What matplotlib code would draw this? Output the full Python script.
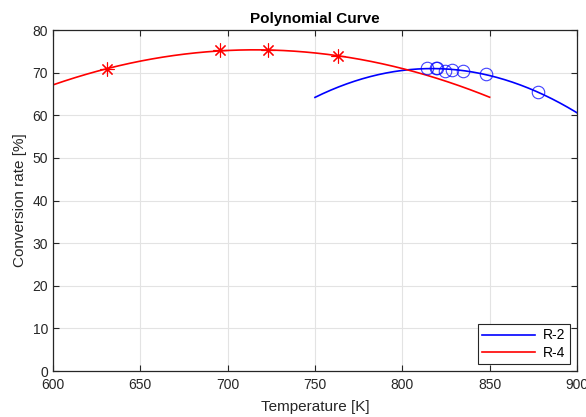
import numpy as np
from matplotlib import pyplot as plt

# measured points (temperature [K], conversion rate [%])
r2_temp = [814.4, 819.2, 819.7, 824.3, 828.2, 834.8, 848.2, 877.5]
r2_conv = [71.0, 71.2, 71.0, 70.5, 70.6, 70.5, 69.7, 65.4]

r4_temp = [630.7, 695.6, 723.3, 763.0]
r4_conv = [70.9, 75.2, 75.2, 74.0]

# range over which each fitted polynomial is drawn
r2_range = [750, 900]
r4_range = [600, 850]

x_ticks = [600, 650, 700, 750, 800, 850, 900]
y_ticks = [0, 10, 20, 30, 40, 50, 60, 70, 80]


def desenha():
    plt.rcParams['font.family'] = ['Liberation Sans', 'DejaVu Sans']
    fig = plt.figure(figsize=(5.86, 4.17), dpi=100)
    ax = fig.add_axes([0.0904, 0.1103, 0.8942, 0.8177])

    escuro = '#262626'

    for temp, conv, faixa, cor, nome in [(r2_temp, r2_conv, r2_range, 'blue', 'R-2'),
                                         (r4_temp, r4_conv, r4_range, 'red', 'R-4')]:
        coef = np.polyfit(temp, conv, 2)
        xs = np.linspace(faixa[0], faixa[1], 200)
        ax.plot(xs, np.polyval(coef, xs), color=cor, lw=1.2, label=nome)

    ax.plot(r2_temp, r2_conv, 'o', ms=9, mfc='none', mec='blue', mew=0.8, alpha=0.75)
    # asterisco no estilo do matlab (+ e x juntos)
    ax.plot(r4_temp, r4_conv, ls='none', marker=(8, 2, 0), ms=10, color='red', mew=0.8)

    ax.set_xlim(600, 900)
    ax.set_ylim(0, 80)
    ax.set_xticks(x_ticks)
    ax.set_yticks(y_ticks)
    ax.grid(True, color='#e3e3e3', lw=0.8)
    ax.set_axisbelow(True)
    ax.tick_params(direction='in', top=True, right=True, labelsize=10,
                   colors=escuro, length=4)
    ax.tick_params(axis='x', pad=5)
    for s in ax.spines.values():
        s.set_color(escuro)
        s.set_linewidth(0.9)

    ax.set_title('Polynomial Curve', fontsize=11, fontweight='bold', color='black', pad=5)
    ax.set_xlabel('Temperature [K]', fontsize=11, color=escuro, labelpad=6)
    ax.set_ylabel('Conversion rate [%]', fontsize=11, color=escuro)

    leg = ax.legend(loc='lower right', fontsize=10, fancybox=False, framealpha=1,
                    edgecolor=escuro, borderaxespad=0.5, handlelength=3.8,
                    labelspacing=0.25, borderpad=0.3, handletextpad=0.6)
    leg.get_frame().set_linewidth(0.8)

    plt.savefig('out.png', dpi=100)


if __name__ == '__main__':
    desenha()
